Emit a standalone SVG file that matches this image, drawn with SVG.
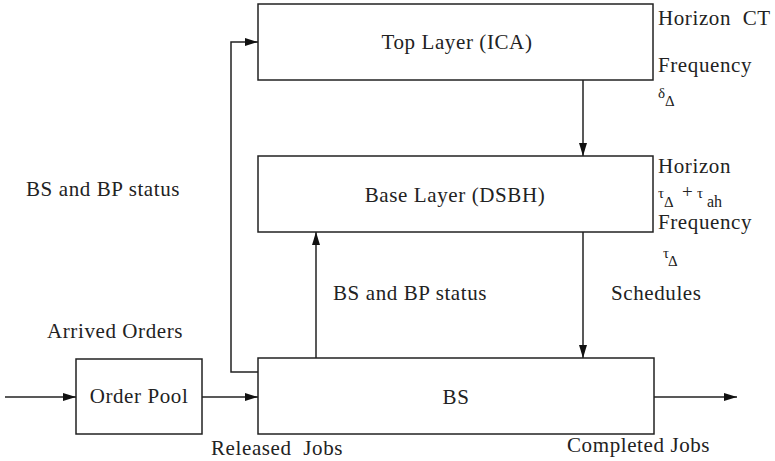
<svg xmlns="http://www.w3.org/2000/svg" width="775" height="461" viewBox="0 0 775 461" font-family="Liberation Serif, DejaVu Serif, serif">
<style>
.box{fill:#fff;stroke:#222;stroke-width:1.5}
.ln{fill:none;stroke:#222;stroke-width:1.5}
text{fill:#222;font-size:21px;letter-spacing:0.6px}
.c{text-anchor:middle}
.s{font-size:15px;letter-spacing:0}
</style>
<defs>
<marker id="ah" viewBox="0 0 13 8" refX="13" refY="4" markerWidth="13" markerHeight="8" markerUnits="userSpaceOnUse" orient="auto">
<path d="M0,0 L13,4 L0,8 Z" fill="#111"/>
</marker>
</defs>
<g id="connectors">
<line class="ln" x1="5" y1="397" x2="76" y2="397" marker-end="url(#ah)"/>
<line class="ln" x1="202" y1="397" x2="258" y2="397" marker-end="url(#ah)"/>
<line class="ln" x1="654" y1="397" x2="737" y2="397" marker-end="url(#ah)"/>
<polyline class="ln" points="258,372 231,372 231,42 258,42" marker-end="url(#ah)"/>
<line class="ln" x1="316" y1="358" x2="316" y2="232" marker-end="url(#ah)"/>
<line class="ln" x1="583" y1="80" x2="583" y2="156" marker-end="url(#ah)"/>
<line class="ln" x1="583" y1="232" x2="583" y2="358" marker-end="url(#ah)"/>
</g>
<g id="top">
<rect class="box" x="258" y="4" width="395" height="76"/>
<text class="c" x="457" y="49">Top Layer (ICA)</text>
</g>
<g id="base">
<rect class="box" x="258" y="156" width="395" height="76"/>
<text class="c" x="455" y="202">Base Layer (DSBH)</text>
</g>
<g id="bs">
<rect class="box" x="258" y="358" width="396" height="76"/>
<text class="c" x="456" y="404">BS</text>
</g>
<g id="orderpool">
<rect class="box" x="76" y="359" width="126" height="75"/>
<text class="c" x="139" y="403">Order Pool</text>
</g>
<g id="labels">
<text x="26" y="196">BS and BP status</text>
<text x="333" y="300">BS and BP status</text>
<text x="611" y="300">Schedules</text>
<text x="47" y="338">Arrived Orders</text>
<text x="211" y="455" xml:space="preserve">Released  Jobs</text>
<text x="567" y="452">Completed Jobs</text>
<text x="658" y="25" xml:space="preserve">Horizon  CT</text>
<text x="658" y="72">Frequency</text>
<text class="s" x="658" y="98">δ<tspan x="665" y="106">Δ</tspan></text>
<text x="658" y="173">Horizon</text>
<text class="s" x="658" y="198">τ<tspan x="664" y="207">Δ</tspan><tspan x="682" y="198" style="font-size:19px">+</tspan><tspan x="697" y="198">τ</tspan><tspan x="707" y="207" style="font-size:16px">ah</tspan></text>
<text x="658" y="229">Frequency</text>
<text class="s" x="663" y="258">τ<tspan x="668" y="266">Δ</tspan></text>
</g>
</svg>
